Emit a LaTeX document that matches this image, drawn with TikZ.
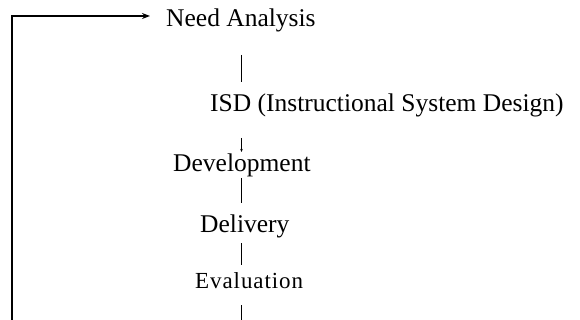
\documentclass[tikz,border=0pt]{standalone}
\usepackage{fontspec}
\setmainfont{Liberation Serif}
\usetikzlibrary{arrows.meta}
\begin{document}
\begin{tikzpicture}[x=1pt,y=1pt,
  stage/.style={anchor=base west, inner sep=0pt, font=\fontsize{25.5}{30}\selectfont},
  link/.style={line width=1.6pt},
  feedback/.style={line width=1.8pt},
]
\useasboundingbox (0,0) rectangle (580,-320);
\fill[white] (0,0) rectangle (580,-320);

% stages of the process
\node[stage] (need) at (166,-27)  {Need Analysis};
\node[stage] (isd)  at (210,-112) {ISD (Instructional System Design)};
\node[stage] (dev)  at (173,-172) {Development};
\node[stage] (del)  at (200,-232) {Delivery};
\node[stage, font=\fontsize{23}{28}\selectfont\addfontfeature{LetterSpace=4}] (eval) at (195,-288) {Evaluation};

% spine of short links
\coordinate (ax)  at (241.5,0);
\coordinate (bot) at (241.5,-320);
\draw[link] ([yshift=-28pt]need.base -| ax) -- ([yshift=30pt]isd.base -| ax);
\draw[line width=0.9pt,-{Stealth[length=3pt,width=2.5pt]}] ([yshift=-26pt]isd.base -| ax) -- ([yshift=20pt]dev.base -| ax);
\draw[link] ([yshift=-6pt]dev.base -| ax) -- ([yshift=29pt]del.base -| ax);
\draw[link] ([yshift=-11pt]del.base -| ax) -- ([yshift=23pt]eval.base -| ax);
\draw[link] ([yshift=-17pt]eval.base -| ax) -- (bot);

% feedback loop back to the first stage
\coordinate (fb) at (12,-320);
\draw[feedback,-{Stealth[length=8pt,width=6pt]}] (fb) |- ([xshift=-16pt,yshift=11pt]need.base west);
\end{tikzpicture}
\end{document}
